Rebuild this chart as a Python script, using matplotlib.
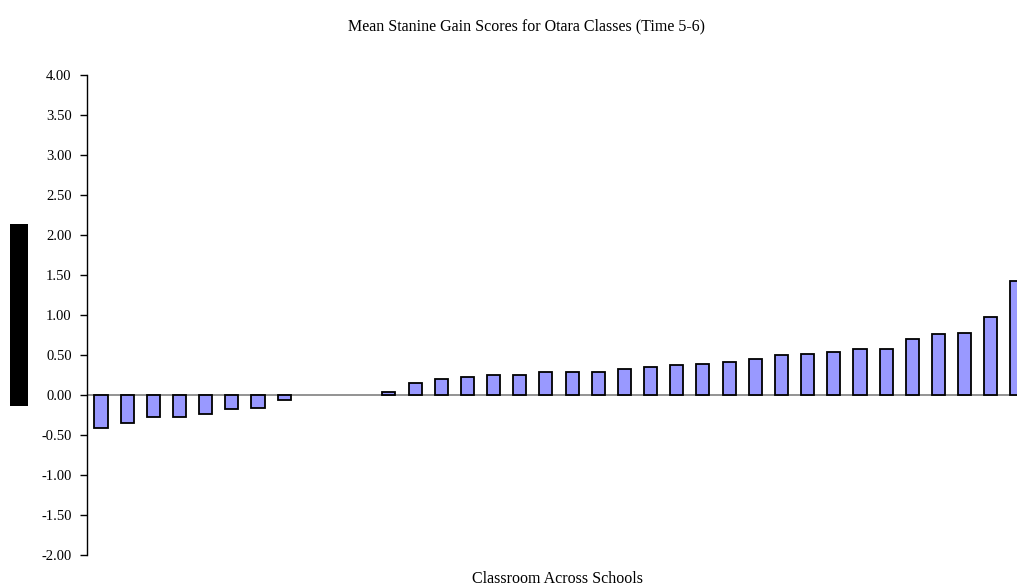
import numpy as np
import matplotlib.pyplot as plt
from matplotlib.patches import Rectangle

# mean stanine gain per classroom, sorted (classes 9-11 had no bar)
classes = list(range(1, 37))
gains = [-0.41, -0.35, -0.28, -0.27, -0.24, -0.18, -0.16, -0.06,
         np.nan, np.nan, np.nan,
         0.04, 0.15, 0.20, 0.23, 0.25, 0.25, 0.29, 0.29, 0.29, 0.33,
         0.35, 0.37, 0.39, 0.41, 0.45, 0.50, 0.51, 0.54, 0.58, 0.58,
         0.70, 0.76, 0.78, 0.98, 1.43]
yticks = [-2.0, -1.5, -1.0, -0.5, 0.0, 0.5, 1.0, 1.5, 2.0, 2.5, 3.0, 3.5, 4.0]

title = "Mean Stanine Gain Scores for Otara Classes (Time 5-6)"
xlabel = "Classroom Across Schools"

plt.rcParams['font.family'] = ['Liberation Serif', 'DejaVu Serif']

fig = plt.figure(figsize=(10.17, 5.87), dpi=100)
ax = fig.add_axes([87 / 1017, 1 - 555 / 587, 1 - 87 / 1017, 480 / 587])

x = np.arange(len(classes))
ax.axhline(0, color='#808080', lw=1.2, zorder=1)
ax.bar(x, gains, width=0.5, color='#9999ff', edgecolor='black',
       linewidth=1.3, zorder=2)

ax.set_xlim(-0.535, 35.0)
ax.set_ylim(-2.0, 4.0)
ax.set_yticks(yticks)
ax.set_yticklabels(["%.2f" % v for v in yticks])
ax.tick_params(axis='y', direction='out', length=5, width=1, pad=6,
               labelsize=10.5, color='black')
ax.set_xticks([])
for s in ['top', 'right', 'bottom']:
    ax.spines[s].set_visible(False)
ax.spines['left'].set_linewidth(1)

fig.text(526 / 1017, 1 - 26 / 587, title, ha='center', va='center', fontsize=11.5)
fig.text(557 / 1017, 1 - 579 / 587, xlabel, ha='center', va='center', fontsize=11.5)

# solid black block left of the axis (collapsed y-label in the source)
fig.patches.append(Rectangle((10 / 1017, 1 - 406 / 587), 18 / 1017, 182 / 587,
                             transform=fig.transFigure, facecolor='black',
                             edgecolor='none'))

fig.savefig('out.png', dpi=100)
